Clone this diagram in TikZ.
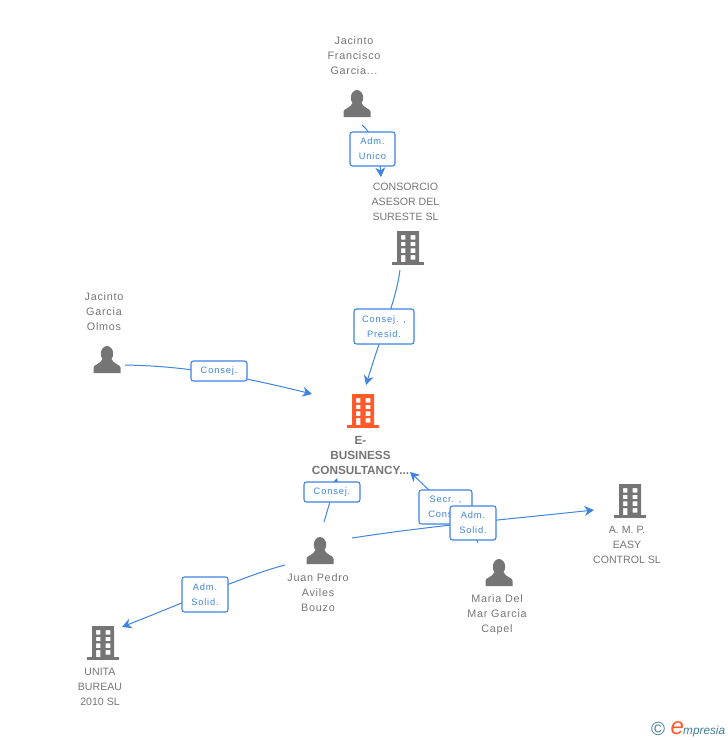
\documentclass[tikz,border=0pt]{standalone}
\usepackage{fontspec}
\setmainfont{Liberation Sans}
\newfontfamily\txtfont[LetterSpace=7]{Liberation Sans}
\newfontfamily\capsfont{Liberation Sans}
\newfontfamily\labfont[LetterSpace=9]{Liberation Sans}
\usetikzlibrary{arrows.meta,backgrounds}
\definecolor{icongrey}{HTML}{757575}
\definecolor{txtgrey}{HTML}{757575}
\definecolor{linkblue}{HTML}{3F84E0}
\definecolor{brandorange}{HTML}{FF5A2C}
\definecolor{logoteal}{HTML}{3F7F96}
\tikzset{
  x=1pt,y=-1pt,
  caption/.style={font=\txtfont\fontsize{10.8}{15}\selectfont,text=txtgrey,align=center,inner sep=0pt},
  capscaption/.style={caption,font=\capsfont\fontsize{10.6}{15}\selectfont},
  maincaption/.style={caption,font=\bfseries\fontsize{11.8}{15}\selectfont},
  rolebox/.style={draw=linkblue,line width=1.1pt,fill=white,rounded corners=2.5pt,inner sep=0pt,
    font=\labfont\fontsize{9.3}{15}\selectfont,text=linkblue,align=center},
  conn/.style={draw=linkblue,line width=1pt,-{Stealth[length=9.5pt,width=10pt,inset=3pt]}},
  pics/person/.style={code={
    \fill[icongrey] (0,7.8) ellipse[x radius=6.2,y radius=7.8];
    \fill[icongrey] (-13.5,27) -- (-13.5,21.5) .. controls (-13.5,18.5) and (-6,18) .. (-4.5,13)
      -- (4.5,13) .. controls (6,18) and (13.5,18.5) .. (13.5,21.5) -- (13.5,27) -- cycle;
  }},
  pics/building/.style={code={
    \fill[#1,even odd rule] (-11,0) rectangle (11,31)
      (-7,4) rectangle (-2.6,8.5) (2.7,4) rectangle (7.3,8.5)
      (-7,10.8) rectangle (-2.6,15) (2.7,10.8) rectangle (7.3,15)
      (-7,17.4) rectangle (-2.6,22) (2.7,17.4) rectangle (7.3,22)
      (-7,24) rectangle (-2.6,31) (2.7,24) rectangle (7.3,28.5);
    \fill[#1] (-16,31) rectangle (16,34);
  }},
}
\begin{document}
\begin{tikzpicture}
\useasboundingbox (0,0) rectangle (728,740);
% icons
\pic at (357,90) {person};
\pic at (107,346) {person};
\pic at (320,537) {person};
\pic at (499,559) {person};
\pic at (408,231) {building=icongrey};
\pic at (363,394) {building=brandorange};
\pic at (630,484) {building=icongrey};
\pic at (103,626) {building=icongrey};
% captions
\node[caption] (jfg) at (354,56) {Jacinto\\Francisco\\Garcia...};
\node[capscaption] (cas) at (405.5,202) {CONSORCIO\\ASESOR DEL\\SURESTE SL};
\node[caption] (jgo) at (104,312) {Jacinto\\Garcia\\Olmos};
\node[maincaption] (ebc) at (360.5,455) {E-\\BUSINESS\\CONSULTANCY...};
\node[caption] (jpa) at (318,593) {Juan Pedro\\Aviles\\Bouzo};
\node[caption] (mmg) at (497,615) {Maria Del\\Mar Garcia\\Capel};
\node[capscaption] (amp) at (627,545) {A. M. P.\\EASY\\CONTROL SL};
\node[capscaption] (ubs) at (100,687) {UNITA\\BUREAU\\2010 SL};
% role labels
\node[rolebox,minimum width=45pt,minimum height=34pt] (r1) at (372.5,149) {Adm.\\Unico};
\node[rolebox,minimum width=60pt,minimum height=35pt] (r2) at (384,326.5) {Consej. ,\\Presid.};
\node[rolebox,minimum width=56pt,minimum height=20pt] (r3) at (219,371) {Consej.};
\node[rolebox,minimum width=56pt,minimum height=20pt] (r4) at (332,492) {Consej.};
\node[rolebox,minimum width=53pt,minimum height=34pt] (r5) at (445.5,507) {Secr. ,\\Cons...};
\node[rolebox,minimum width=46pt,minimum height=34pt] (r6) at (473,523) {Adm.\\Solid.};
\node[rolebox,minimum width=46pt,minimum height=35pt] (r7) at (205,594.5) {Adm.\\Solid.};
% free ends
\coordinate (a1) at (362,125); \coordinate (b1) at (381,177);
\coordinate (a2) at (400,270); \coordinate (b2) at (366,385);
\coordinate (a3) at (125,365); \coordinate (b3) at (312,394);
\coordinate (a4) at (324,522); \coordinate (b4) at (337,478);
\coordinate (a5) at (478,543); \coordinate (b5) at (410,472);
\coordinate (a6) at (352,538); \coordinate (b6) at (594,510);
\coordinate (a7) at (285,565); \coordinate (b7) at (122,627);
\begin{pgfonlayer}{background}
\draw[conn] (a1) .. controls (372,133) and (379,150) .. (b1);
\draw[conn] (a2) .. controls (396,300) and (384,326) .. (b2);
\draw[conn] (a3) .. controls (170,366) and (215,370) .. (b3);
\draw[conn] (a4) -- (b4);
\draw[conn] (a5) .. controls (474,530) and (450,510) .. (b5);
\draw[conn] (a6) .. controls (430,526) and (500,520) .. (b6);
\draw[conn] (a7) .. controls (250,574) and (200,596) .. (b7);
\end{pgfonlayer}
% logo
\node[inner sep=0pt,text=logoteal,font=\fontsize{19}{19}\selectfont] (copy) at (658,729) {©};
\node[inner sep=0pt,anchor=base west,text=brandorange,font=\itshape\fontsize{24}{24}\selectfont] (logoe) at (670.5,734) {e};
\node[inner sep=0pt,anchor=base west,text=logoteal,font=\itshape\fontsize{11.8}{12}\selectfont] (logot) at (683,734) {mpresia};
\end{tikzpicture}
\end{document}
